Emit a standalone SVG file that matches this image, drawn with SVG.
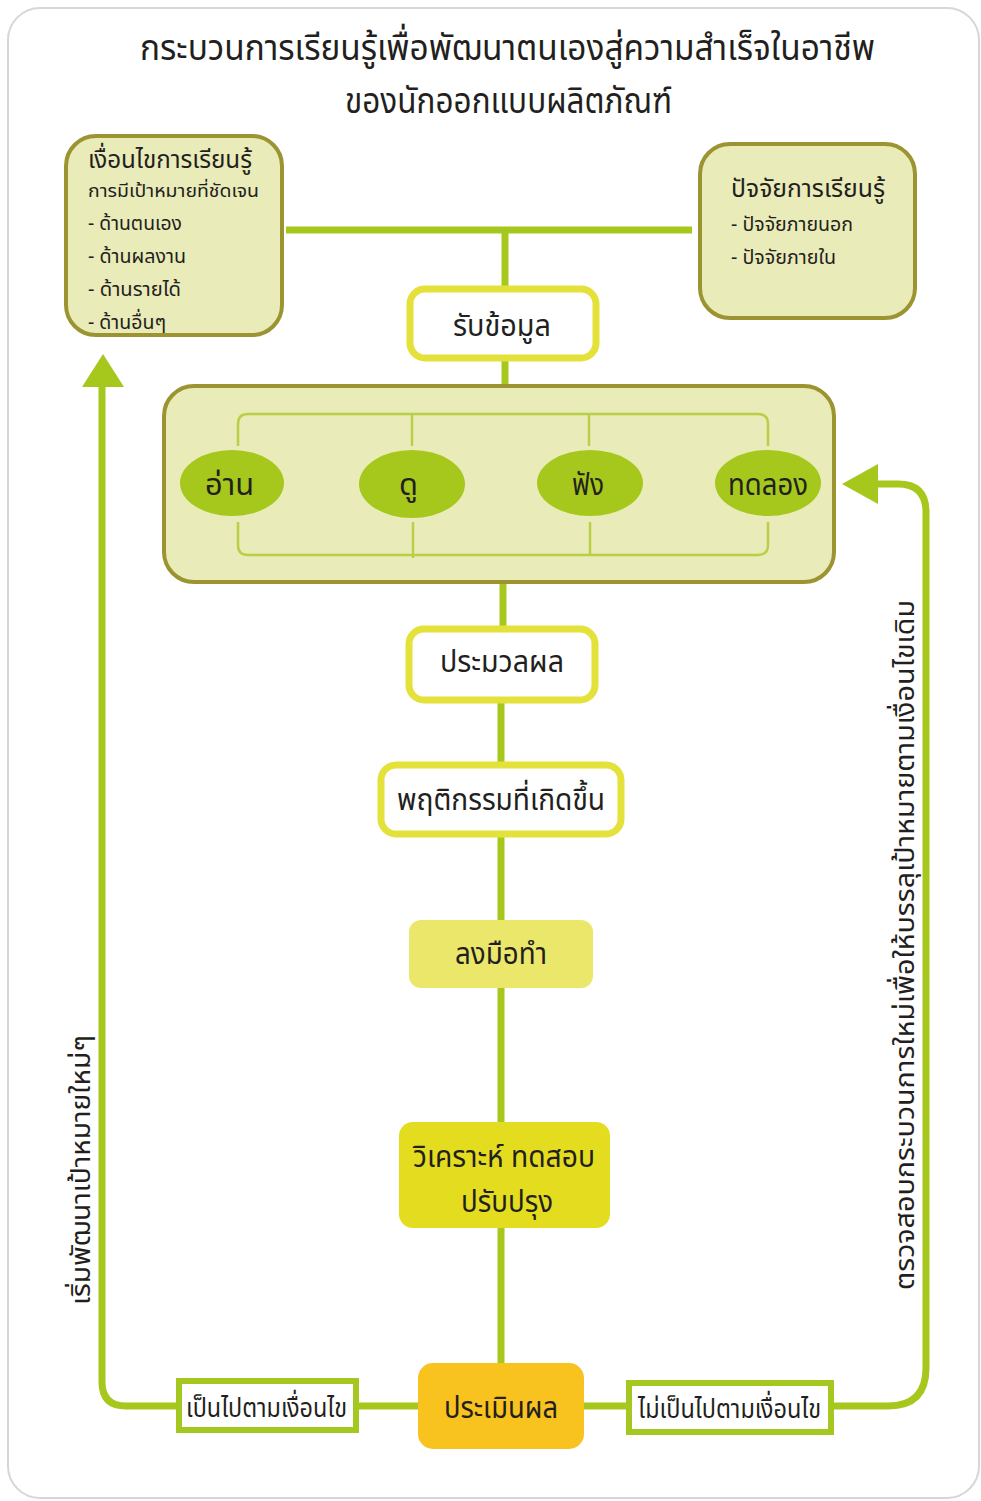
<svg xmlns="http://www.w3.org/2000/svg" width="981" height="1501" viewBox="0 0 981 1501">
  <defs>
    <style>
      text { font-family: "Noto Sans Thai", "Noto Sans", "DejaVu Sans", sans-serif; fill: #231f20; }
      .title { font-size: 36px; }
      .head { font-size: 25px; }
      .sub { font-size: 18px; }
      .item { font-size: 20px; }
      .box-label { font-size: 30px; }
      .oval-label { font-size: 31px; }
      .side-label { font-size: 27px; }
      .group-box { fill: #e9ebb8; stroke: #9b9431; stroke-width: 4; }
      .step-white { fill: #ffffff; stroke: #e4e23a; stroke-width: 7; }
      .cond-box { fill: #ffffff; stroke: #a4c820; stroke-width: 6; }
      .link { fill: none; stroke: #a6c81c; stroke-width: 7; }
      .thin { fill: none; stroke: #b9cf45; stroke-width: 2.5; }
      .oval { fill: #a6c71c; }
      .arrowhead { fill: #a6c71c; }
    </style>
  </defs>

  <!-- page frame -->
  <rect x="8" y="8" width="971" height="1490" rx="32" fill="#ffffff" stroke="#d6d6d6" stroke-width="2"/>

  <!-- title -->
  <g id="title">
    <text class="title" x="140" y="60" textLength="735" lengthAdjust="spacingAndGlyphs">กระบวนการเรียนรู้เพื่อพัฒนาตนเองสู่ความสำเร็จในอาชีพ</text>
    <text class="title" x="345" y="113" textLength="327" lengthAdjust="spacingAndGlyphs">ของนักออกแบบผลิตภัณฑ์</text>
  </g>

  <!-- connectors -->
  <g id="connectors">
    <line class="link" x1="286" y1="230" x2="692" y2="230"/>
    <line class="link" x1="505" y1="230" x2="505" y2="290"/>
    <line class="link" x1="505" y1="358" x2="505" y2="387"/>
    <line class="link" x1="503" y1="581" x2="503" y2="630"/>
    <line class="link" x1="501" y1="700" x2="501" y2="766"/>
    <line class="link" x1="501" y1="834" x2="501" y2="920"/>
    <line class="link" x1="501" y1="988" x2="501" y2="1122"/>
    <line class="link" x1="501" y1="1228" x2="501" y2="1363"/>
    <line class="link" x1="356" y1="1406" x2="418" y2="1406"/>
    <line class="link" x1="584" y1="1406" x2="629" y2="1406"/>
    <!-- back to the conditions box -->
    <path class="link" d="M178,1406 H126 Q102,1406 102,1382 V382"/>
    <polygon class="arrowhead" points="103,354 82,387 124,387"/>
    <!-- back to the trial step -->
    <path class="link" d="M832,1406 H888 Q926,1406 926,1368 V512 Q926,484 898,484 H872"/>
    <polygon class="arrowhead" points="842,484 878,464 878,504"/>
  </g>

  <!-- learning conditions -->
  <g id="conditions">
    <rect class="group-box" x="66" y="136" width="216" height="199" rx="30"/>
    <text class="head" x="88" y="168" textLength="164" lengthAdjust="spacingAndGlyphs">เงื่อนไขการเรียนรู้</text>
    <text class="sub" x="88" y="197" textLength="171" lengthAdjust="spacingAndGlyphs">การมีเป้าหมายที่ชัดเจน</text>
    <text class="item" x="88" y="230" textLength="94" lengthAdjust="spacingAndGlyphs">- ด้านตนเอง</text>
    <text class="item" x="88" y="263" textLength="98" lengthAdjust="spacingAndGlyphs">- ด้านผลงาน</text>
    <text class="item" x="88" y="296" textLength="93" lengthAdjust="spacingAndGlyphs">- ด้านรายได้</text>
    <text class="item" x="88" y="329" textLength="78" lengthAdjust="spacingAndGlyphs">- ด้านอื่นๆ</text>
  </g>

  <!-- learning factors -->
  <g id="factors">
    <rect class="group-box" x="700" y="144" width="215" height="174" rx="30"/>
    <text class="head" x="731" y="197" textLength="154" lengthAdjust="spacingAndGlyphs">ปัจจัยการเรียนรู้</text>
    <text class="item" x="731" y="231" textLength="122" lengthAdjust="spacingAndGlyphs">- ปัจจัยภายนอก</text>
    <text class="item" x="731" y="264" textLength="105" lengthAdjust="spacingAndGlyphs">- ปัจจัยภายใน</text>
  </g>

  <!-- receive information -->
  <g id="receive">
    <rect class="step-white" x="410" y="289" width="186" height="69" rx="15"/>
    <text class="box-label" x="453" y="336" textLength="98" lengthAdjust="spacingAndGlyphs">รับข้อมูล</text>
  </g>

  <!-- channels: read / watch / listen / try -->
  <g id="channels">
    <rect class="group-box" x="164" y="386" width="670" height="196" rx="30"/>
    <path class="thin" d="M238,446 V424 Q238,414 248,414 H758 Q768,414 768,424 V446"/>
    <line class="thin" x1="412" y1="414" x2="412" y2="446"/>
    <line class="thin" x1="589" y1="414" x2="589" y2="446"/>
    <path class="thin" d="M238,522 V545 Q238,555 248,555 H758 Q768,555 768,545 V522"/>
    <line class="thin" x1="413" y1="522" x2="413" y2="558"/>
    <line class="thin" x1="590" y1="522" x2="590" y2="556"/>
    <g id="read">
      <ellipse class="oval" cx="232" cy="483" rx="52" ry="33"/>
      <text class="oval-label" x="205" y="495" textLength="49" lengthAdjust="spacingAndGlyphs">อ่าน</text>
    </g>
    <g id="watch">
      <ellipse class="oval" cx="412" cy="484" rx="53" ry="34"/>
      <text class="oval-label" x="399" y="495" textLength="19" lengthAdjust="spacingAndGlyphs">ดู</text>
    </g>
    <g id="listen">
      <ellipse class="oval" cx="590" cy="483" rx="53" ry="33"/>
      <text class="oval-label" x="572" y="495" textLength="32" lengthAdjust="spacingAndGlyphs">ฟัง</text>
    </g>
    <g id="try">
      <ellipse class="oval" cx="768" cy="483" rx="53" ry="33"/>
      <text class="oval-label" x="728" y="495" textLength="80" lengthAdjust="spacingAndGlyphs">ทดลอง</text>
    </g>
  </g>

  <!-- process -->
  <g id="process">
    <rect class="step-white" x="409" y="629" width="186" height="71" rx="15"/>
    <text class="box-label" x="440" y="672" textLength="124" lengthAdjust="spacingAndGlyphs">ประมวลผล</text>
  </g>

  <!-- resulting behaviour -->
  <g id="behaviour">
    <rect class="step-white" x="381" y="765" width="240" height="69" rx="15"/>
    <text class="box-label" x="397" y="810" textLength="208" lengthAdjust="spacingAndGlyphs">พฤติกรรมที่เกิดขึ้น</text>
  </g>

  <!-- hands-on -->
  <g id="practice">
    <rect x="409" y="920" width="184" height="68" rx="12" fill="#ebe76b"/>
    <text class="box-label" x="455" y="964" textLength="92" lengthAdjust="spacingAndGlyphs">ลงมือทำ</text>
  </g>

  <!-- analyse, test, improve -->
  <g id="analyse">
    <rect x="399" y="1122" width="211" height="106" rx="14" fill="#e4dd1f"/>
    <text class="box-label" x="413" y="1167" textLength="182" lengthAdjust="spacingAndGlyphs">วิเคราะห์ ทดสอบ</text>
    <text class="box-label" x="461" y="1212" textLength="92" lengthAdjust="spacingAndGlyphs">ปรับปรุง</text>
  </g>

  <!-- evaluate -->
  <g id="evaluate">
    <rect x="418" y="1363" width="166" height="86" rx="15" fill="#f9c31f"/>
    <text class="box-label" x="444" y="1418" textLength="114" lengthAdjust="spacingAndGlyphs">ประเมินผล</text>
  </g>

  <!-- condition met -->
  <g id="met">
    <rect class="cond-box" x="179" y="1381" width="177" height="49"/>
    <text class="side-label" x="186" y="1417" textLength="161" lengthAdjust="spacingAndGlyphs">เป็นไปตามเงื่อนไข</text>
  </g>

  <!-- condition not met -->
  <g id="not-met">
    <rect class="cond-box" x="629" y="1383" width="202" height="49"/>
    <text class="side-label" x="638" y="1418" textLength="183" lengthAdjust="spacingAndGlyphs">ไม่เป็นไปตามเงื่อนไข</text>
  </g>

  <!-- loop labels -->
  <g id="label-new-goals">
    <text class="side-label" transform="translate(90,1305) rotate(-90)" x="0" y="0" textLength="270" lengthAdjust="spacingAndGlyphs">เริ่มพัฒนาเป้าหมายใหม่ๆ</text>
  </g>
  <g id="label-recheck">
    <text class="side-label" transform="translate(914,1290) rotate(-90)" x="0" y="0" textLength="690" lengthAdjust="spacingAndGlyphs">ตรวจสอบกระบวนการใหม่เพื่อให้บรรลุเป้าหมายตามเงื่อนไขเดิม</text>
  </g>
</svg>
